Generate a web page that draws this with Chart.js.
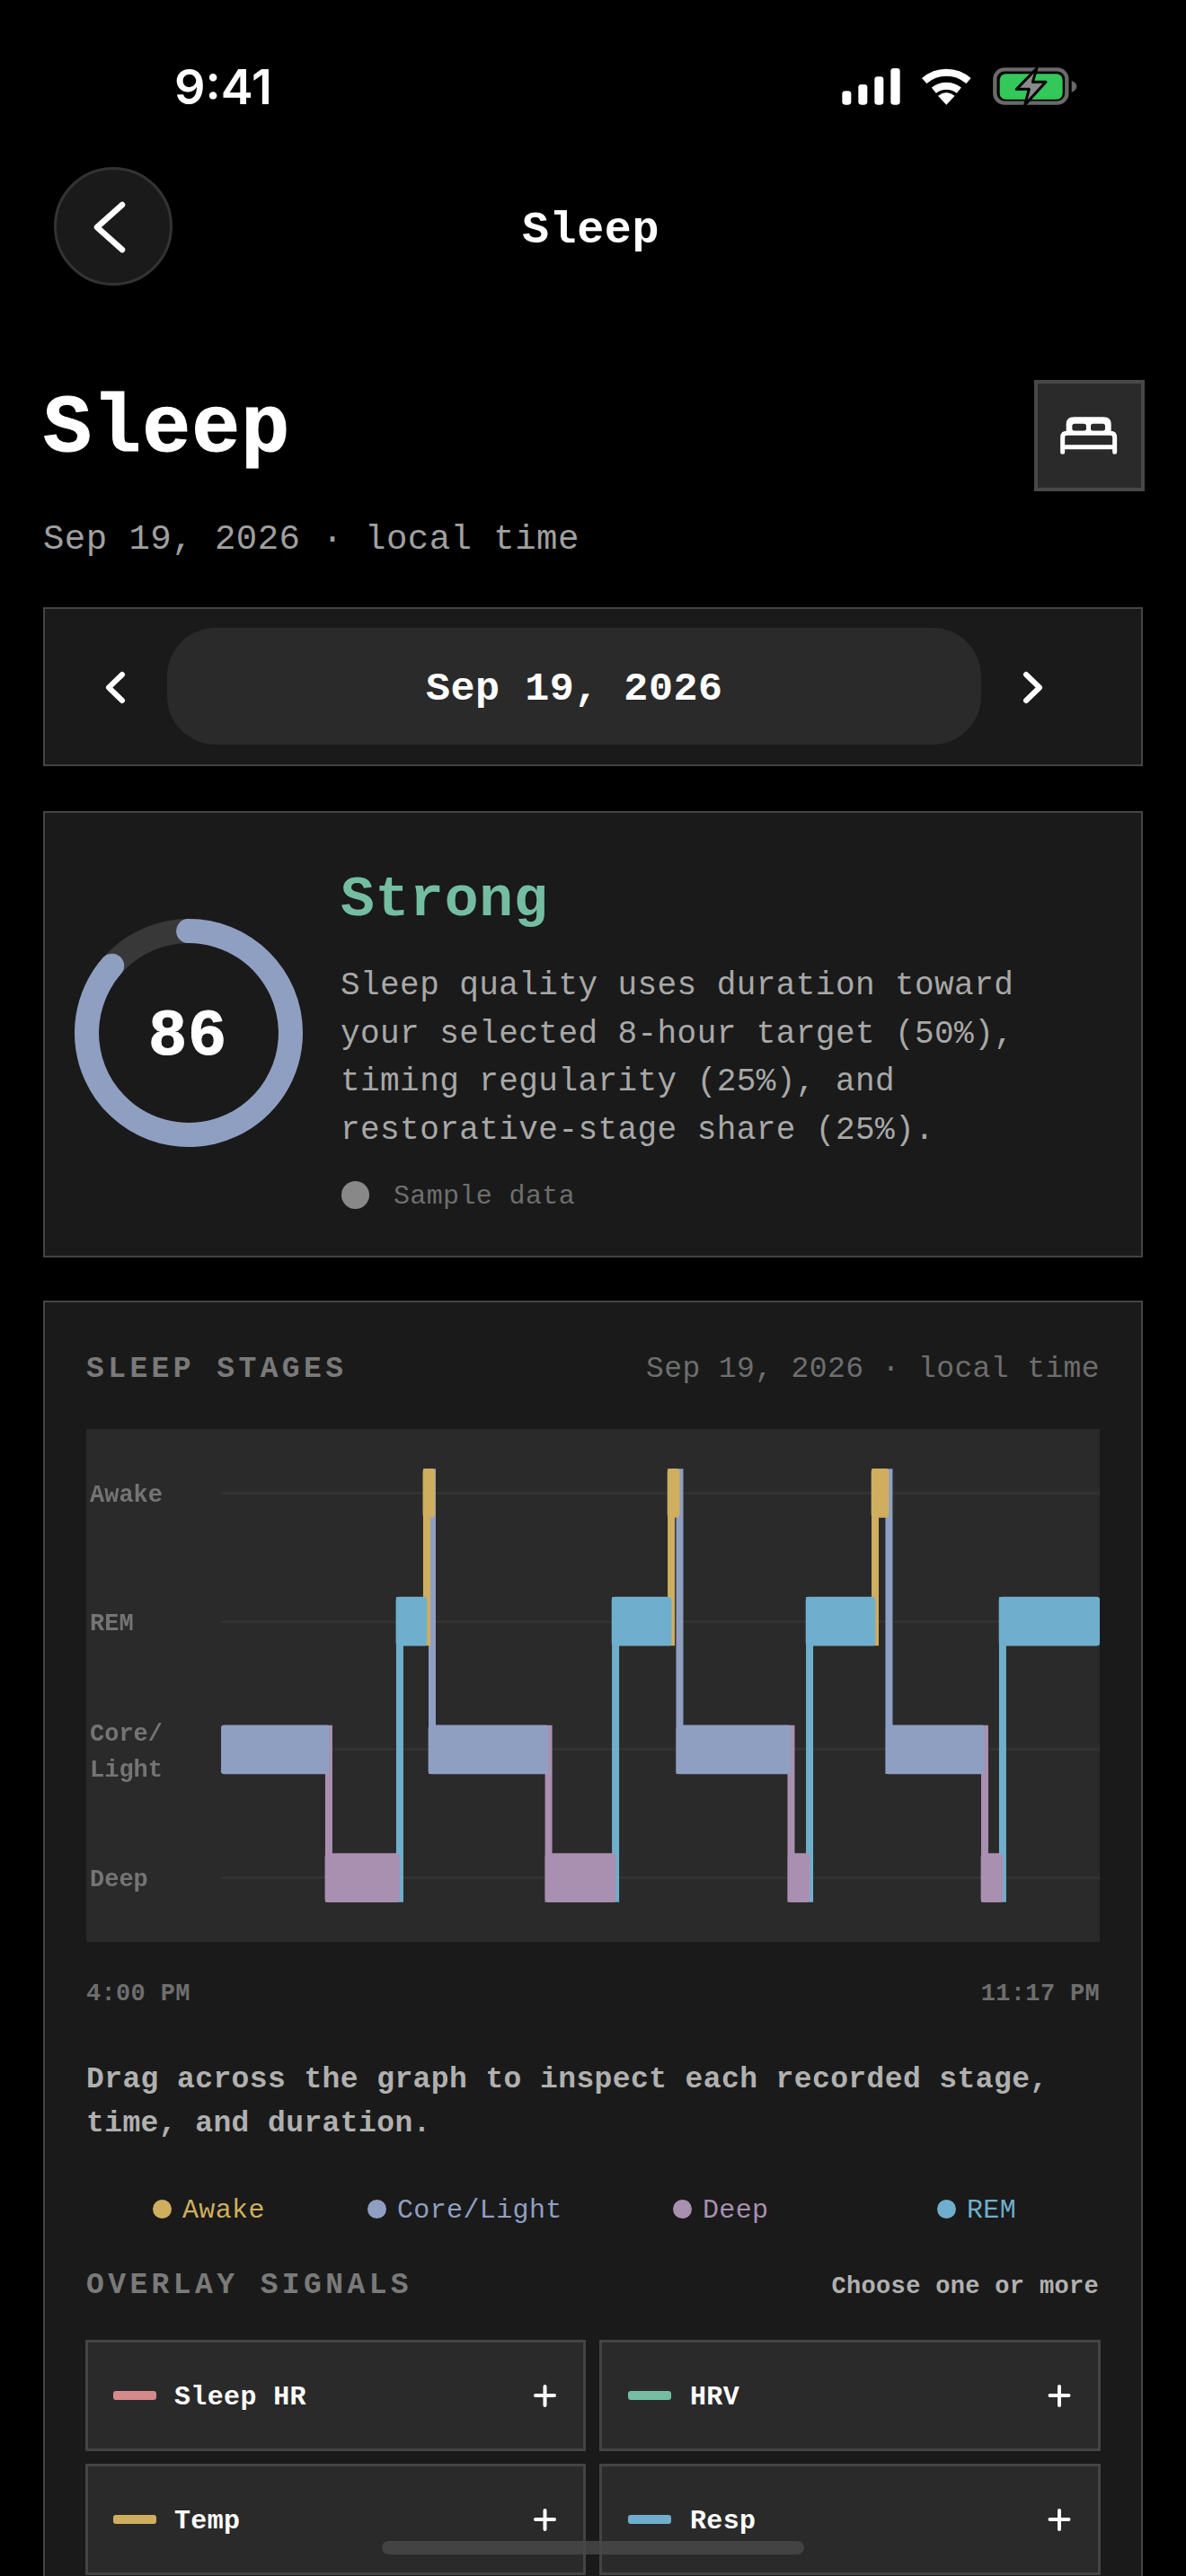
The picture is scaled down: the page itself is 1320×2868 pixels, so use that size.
<!DOCTYPE html>
<html><head><meta charset="utf-8">
<script src="https://cdn.jsdelivr.net/npm/chart.js@4"></script>
<style>
html,body{margin:0;padding:0;background:#000;width:1320px;height:2868px;overflow:hidden}
.t{position:absolute;white-space:pre;font-family:"Liberation Mono",monospace;letter-spacing:.012em}
.b{font-weight:700}
.box{position:absolute;box-sizing:border-box}
svg{position:absolute;overflow:visible}
</style></head><body>
<div class="t" style="left:194px;top:64px;font:600 54px/66px Inter,sans-serif;color:#fff;letter-spacing:0">9:41</div>
<svg style="left:920px;top:60px" width="300" height="70" viewBox="0 0 900 210">
 <g fill="#fff"><rect x="52" y="124" width="30" height="46" rx="10"/><rect x="106" y="102" width="30" height="68" rx="10"/><rect x="160" y="76" width="30" height="94" rx="10"/><rect x="214" y="48" width="31" height="122" rx="10"/>
 <path d="M400 170 L372 140 Q400 118 428 140 Z"/></g>
 <path d="M326 90 A 112 112 0 0 1 474 90 M358 122 A 66 66 0 0 1 442 122" fill="none" stroke="#fff" stroke-width="24"/>
 <rect x="562" y="52" width="240" height="112" rx="32" fill="none" stroke="#6a6a6a" stroke-width="13"/>
 <rect x="578" y="67" width="210" height="85" rx="20" fill="#34c759"/>
 <path d="M818 90 Q835 96 835 109 Q835 122 818 128 Z" fill="#6a6a6a"/>
 <path d="M702 48 L634 118 H676 L662 170 L732 94 H688 Z" fill="#8a8a8a" stroke="#000" stroke-width="9" stroke-linejoin="round"/>
</svg>

<div class="box" style="left:60px;top:186px;width:132px;height:132px;border-radius:50%;background:#1a1a1a;border:3px solid #333"></div>
<svg style="left:0;top:0" width="1320" height="860">
 <path d="M136 228 L108 253 L136 278" fill="none" stroke="#fff" stroke-width="6.5" stroke-linecap="round" stroke-linejoin="round"/>
</svg>
<div class="t b" style="left:581px;top:230px;font-size:50px;line-height:54px;color:#fff">Sleep</div>
<div class="t b" style="left:48px;top:430px;font-size:90px;line-height:96px;color:#fff;-webkit-text-stroke:1px #fff">Sleep</div>
<div class="box" style="left:1151px;top:423px;width:123px;height:124px;background:#2a2a2a;border:4px solid #484848"></div>
<svg style="left:1140px;top:415px" width="140" height="140" viewBox="0 0 420 420">
 <path d="M140 200 V172 Q140 148 165 148 H265 Q290 148 290 172 V200 Z" fill="#fff"/>
 <rect x="160" y="170" width="47" height="24" rx="8" fill="#2a2a2a"/><rect x="222" y="170" width="48" height="24" rx="8" fill="#2a2a2a"/>
 <path d="M128 265 V216 Q128 202 142 202 H288 Q302 202 302 216 V265 M128 248 H302" fill="none" stroke="#fff" stroke-width="15" stroke-linecap="round"/>
</svg>
<div class="t" style="left:48px;top:579px;font-size:39px;line-height:44px;color:#a0a0a0">Sep 19, 2026 · local time</div>

<div class="box" style="left:48px;top:676px;width:1224px;height:177px;background:#1a1a1a;border:2px solid #444"></div>
<div class="box" style="left:186px;top:699px;width:906px;height:130px;background:#2a2a2a;border-radius:54px"></div>
<svg style="left:0;top:0" width="1320" height="860">
 <path d="M136 751 L121 765.5 L136 780" fill="none" stroke="#fff" stroke-width="6" stroke-linecap="round" stroke-linejoin="round"/>
 <path d="M1142 751 L1157 765.5 L1142 780" fill="none" stroke="#fff" stroke-width="6" stroke-linecap="round" stroke-linejoin="round"/>
</svg>
<div class="t b" style="left:474px;top:743px;font-size:45px;line-height:50px;color:#fff">Sep 19, 2026</div>

<div class="box" style="left:48px;top:903px;width:1224px;height:497px;background:#1a1a1a;border:2px solid #444"></div>
<div class="box" style="left:83px;top:1023px;width:254px;height:254px;border-radius:50%;border:27px solid #383838"></div>
<canvas id="ring" width="254" height="254" style="position:absolute;left:83px;top:1023px"></canvas>
<div class="t b" style="left:165px;top:1116px;font-size:72px;line-height:78px;color:#fff;-webkit-text-stroke:1px #fff">86</div>
<div class="t b" style="left:379px;top:968px;font-size:63px;line-height:70px;color:#74bda3">Strong</div>
<div class="t" style="left:379px;top:1071px;font-size:36px;line-height:53.6px;color:#a8a8a8">Sleep quality uses duration toward
your selected 8-hour target (50%),
timing regularity (25%), and
restorative-stage share (25%).</div>
<div class="box" style="left:380px;top:1315px;width:31px;height:31px;border-radius:50%;background:#888"></div>
<div class="t" style="left:438px;top:1314px;font-size:30px;line-height:36px;color:#6e6e6e">Sample data</div>

<div class="box" style="left:48px;top:1448px;width:1224px;height:1500px;background:#1a1a1a;border:2px solid #444"></div>
<div class="t b" style="left:96px;top:1505px;font-size:33px;line-height:40px;color:#7a7a7a;letter-spacing:4.4px">SLEEP STAGES</div>
<div class="t" style="left:719px;top:1505px;font-size:33px;line-height:40px;color:#6e6e6e">Sep 19, 2026 · local time</div>
<div class="box" style="left:96px;top:1591px;width:1128px;height:571px;background:#2a2a2a"></div>
<canvas id="stages" width="1128" height="571" style="position:absolute;left:96px;top:1591px"></canvas>
<div class="t b" style="left:96px;top:2203px;font-size:27px;line-height:34px;color:#6e6e6e">4:00 PM</div>
<div class="t b" style="right:96px;top:2203px;font-size:27px;line-height:34px;color:#6e6e6e">11:17 PM</div>
<div class="t b" style="left:96px;top:2292px;font-size:33px;line-height:48.6px;color:#b0b0b0">Drag across the graph to inspect each recorded stage,
time, and duration.</div>

<div class="box" style="left:170px;top:2449px;width:21px;height:21px;border-radius:50%;background:#cfae5f"></div>
<div class="t" style="left:203px;top:2443px;font-size:30px;line-height:36px;color:#cfae5f">Awake</div>
<div class="box" style="left:409px;top:2449px;width:21px;height:21px;border-radius:50%;background:#8f9fc2"></div>
<div class="t" style="left:442px;top:2443px;font-size:30px;line-height:36px;color:#8f9fc2">Core/Light</div>
<div class="box" style="left:749px;top:2449px;width:21px;height:21px;border-radius:50%;background:#a98fb0"></div>
<div class="t" style="left:782px;top:2443px;font-size:30px;line-height:36px;color:#a98fb0">Deep</div>
<div class="box" style="left:1043px;top:2449px;width:21px;height:21px;border-radius:50%;background:#6fafcd"></div>
<div class="t" style="left:1076px;top:2443px;font-size:30px;line-height:36px;color:#6fafcd">REM</div>

<div class="t b" style="left:96px;top:2525px;font-size:33px;line-height:40px;color:#7a7a7a;letter-spacing:4.4px">OVERLAY SIGNALS</div>
<div class="t b" style="right:97px;top:2529px;font-size:27px;line-height:34px;color:#b0b0b0">Choose one or more</div>

<div class="box" style="left:95px;top:2605px;width:557px;height:124px;background:#2a2a2a;border:3px solid #444"></div>
<div class="box" style="left:667px;top:2605px;width:558px;height:124px;background:#2a2a2a;border:3px solid #444"></div>
<div class="box" style="left:95px;top:2743px;width:557px;height:124px;background:#2a2a2a;border:3px solid #444"></div>
<div class="box" style="left:667px;top:2743px;width:558px;height:124px;background:#2a2a2a;border:3px solid #444"></div>
<div class="box" style="left:126px;top:2662px;width:48px;height:10px;border-radius:3px;background:#d48a8a"></div>
<div class="box" style="left:699px;top:2662px;width:48px;height:10px;border-radius:3px;background:#74bda3"></div>
<div class="box" style="left:126px;top:2800px;width:48px;height:10px;border-radius:3px;background:#cfae5f"></div>
<div class="box" style="left:699px;top:2800px;width:48px;height:10px;border-radius:3px;background:#6fafcd"></div>
<div class="t b" style="left:194px;top:2651px;font-size:30px;line-height:36px;color:#fff">Sleep HR</div>
<div class="t b" style="left:768px;top:2651px;font-size:30px;line-height:36px;color:#fff">HRV</div>
<div class="t b" style="left:194px;top:2789px;font-size:30px;line-height:36px;color:#fff">Temp</div>
<div class="t b" style="left:768px;top:2789px;font-size:30px;line-height:36px;color:#fff">Resp</div>
<svg style="left:0;top:2600px" width="1320" height="268">
 <path d="M606.5 57 V78 M596 67 H617 M1179 57 V78 M1168.500 67 H1189.500 M606.5 195 V216 M596 205 H617 M1179 195 V216 M1168.500 205 H1189.500" stroke="#fff" stroke-width="4" stroke-linecap="round"/>
</svg>
<div class="box" style="left:425px;top:2829px;width:470px;height:15px;border-radius:8px;background:rgba(72,72,72,.85)"></div>

<script>
const stageLabels = ['Deep', ['Core/', 'Light'], 'REM', 'Awake'];
const stageNames = ['Deep', 'Core/Light', 'REM', 'Awake'];
const stageColors = ['#a98fb0', '#8f9fc2', '#6fafcd', '#cfae5f'];
const segmentStage = [1, 0, 2, 3, 1, 0, 2, 3, 1, 0, 2, 3, 1, 0, 2];
const segmentStart = [0, 51.8, 87.1, 100.5, 103.2, 161.3, 194.4, 222.1, 226.5, 282, 290.9, 323.5, 330.7, 378, 387];
const segmentEnd = [53.8, 88.7, 102.3, 106.3, 162.6, 196.2, 223.9, 227.9, 283.3, 292.7, 325.3, 332, 379.6, 388.7, 437];
const transitionAt = [null, 53.6, 88.9, 102.3, 105, 162.9, 196.2, 223.9, 228.1, 283.5, 292.7, 325.3, 332.2, 379.8, 388.7];
const totalMinutes = 437;
const scoreValue = [86, 14];
const bandHalf = 0.19;

const barSets = stageNames.map((name, s) => ({
  type: 'bar', label: name, indexAxis: 'y', order: 1, grouped: false,
  barThickness: 54, borderRadius: 4, borderSkipped: false, backgroundColor: stageColors[s],
  data: segmentStage.map((st, i) => st === s ? { y: s, x: [segmentStart[i], segmentEnd[i]] } : null).filter(Boolean)
}));
const linkSets = segmentStage.map((st, i) => i === 0 ? null : ({
  type: 'line', label: 'link', order: 2, borderColor: stageColors[st], borderWidth: 8,
  borderCapStyle: 'butt', pointRadius: 0, fill: false, tension: 0,
  data: [
    { x: transitionAt[i], y: Math.max(st, segmentStage[i - 1]) + bandHalf },
    { x: transitionAt[i], y: Math.min(st, segmentStage[i - 1]) - bandHalf }
  ]
})).filter(Boolean);

new Chart(document.getElementById('stages'), {
  data: { datasets: [...barSets, ...linkSets] },
  options: {
    responsive: false, animation: false, devicePixelRatio: 1,
    layout: { padding: { left: 4, right: 0, top: 0, bottom: 0 } },
    plugins: { legend: { display: false }, tooltip: { enabled: false } },
    scales: {
      x: { type: 'linear', min: 0, max: totalMinutes, display: false, offset: false },
      y: {
        type: 'linear', min: -0.5, max: 3.5, position: 'left', offset: false,
        afterFit: s => { s.width = 146; s.paddingTop = 0; s.paddingBottom = 0; },
        afterBuildTicks: s => { s.ticks = stageLabels.map((_, v) => ({ value: v })); },
        border: { display: false },
        grid: { color: '#333333', lineWidth: 3, drawTicks: false, offset: false },
        ticks: {
          autoSkip: false, crossAlign: 'far', padding: 0, color: '#747474', labelOffset: 3,
          font: { family: '"Liberation Mono"', size: 27, weight: '700', lineHeight: 1.48 },
          callback: v => stageLabels[v]
        }
      }
    }
  }
});

new Chart(document.getElementById('ring'), {
  type: 'doughnut',
  data: { labels: ['Score', 'Rest'], datasets: [{
    data: scoreValue, backgroundColor: ['#8f9fc2', 'rgba(0,0,0,0)'], borderWidth: 0,
    borderRadius: 14, rotation: -7, circumference: 378
  }] },
  options: {
    responsive: false, animation: false, cutout: '78.7%',
    layout: { padding: 0 },
    plugins: { legend: { display: false }, tooltip: { enabled: false } }
  }
});
</script>
</body></html>
